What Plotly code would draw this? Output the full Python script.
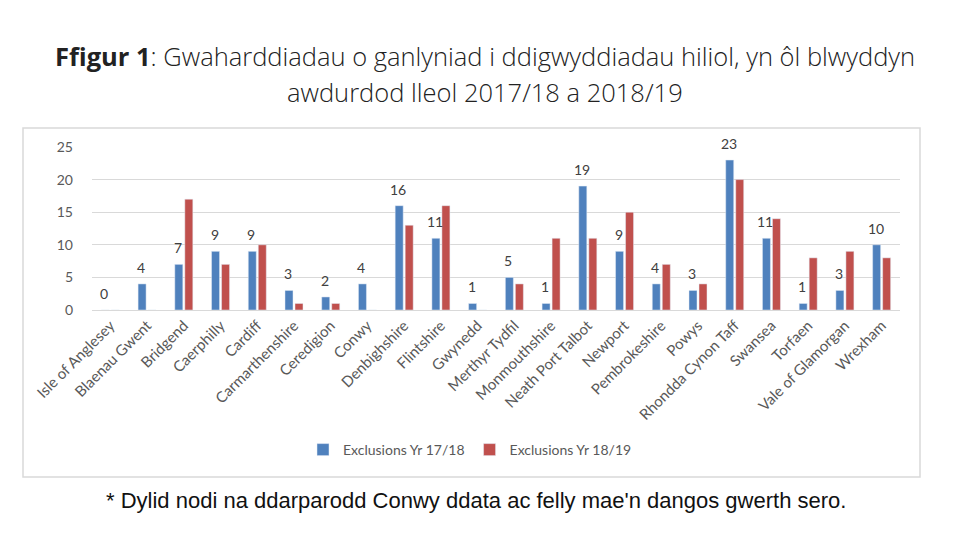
import plotly.graph_objects as go

categories = ["Isle of Anglesey", "Blaenau Gwent", "Bridgend", "Caerphilly", "Cardiff",
              "Carmarthenshire", "Ceredigion", "Conwy", "Denbighshire", "Flintshire",
              "Gwynedd", "Merthyr Tydfil", "Monmouthshire", "Neath Port Talbot", "Newport",
              "Pembrokeshire", "Powys", "Rhondda Cynon Taff", "Swansea", "Torfaen",
              "Vale of Glamorgan", "Wrexham"]
excl_1718 = [0, 4, 7, 9, 9, 3, 2, 4, 16, 11, 1, 5, 1, 19, 9, 4, 3, 23, 11, 1, 3, 10]
excl_1819 = [0, 0, 17, 7, 10, 1, 1, 0, 13, 16, 0, 4, 11, 11, 15, 7, 4, 20, 14, 8, 9, 8]
series_names = ["Exclusions Yr 17/18", "Exclusions Yr 18/19"]
y_ticks = [0, 5, 10, 15, 20, 25]

title_line1 = "<b>Ffigur 1</b>: Gwaharddiadau o ganlyniad i ddigwyddiadau hiliol, yn ôl blwyddyn"
title_line2 = "awdurdod lleol 2017/18 a 2018/19"
footnote = "* Dylid nodi na ddarparodd Conwy ddata ac felly mae'n dangos gwerth sero."

# page body has an 8px margin, so the figure is drawn 8px in from the window corner
W, H = 968, 541
L, T = 84, 139
PW, PH = 808, 163
R, B = W - L - PW, H - T - PH


def px(x):  # window pixel -> paper
    return (x - 8 - L) / PW


def py(y):
    return (T + PH - (y - 8)) / PH


BLUE = "#4F81BD"
RED = "#C0504D"
GRAY = "#595959"
chart_font = "Lato, Open Sans, sans-serif"

fig = go.Figure()
fig.add_trace(go.Bar(x=categories, y=excl_1718, name=series_names[0], marker_color=BLUE))
fig.add_trace(go.Bar(x=categories, y=excl_1819, name=series_names[1], marker_color=RED))

annotations = []
for c, v in zip(categories, excl_1718):
    annotations.append(dict(x=c, y=v, xref="x", yref="y", text=str(v), showarrow=False,
                            xshift=-6, yshift=6, yanchor="bottom",
                            font=dict(family=chart_font, size=14, color="#404040")))

annotations += [
    dict(x=px(485), y=py(56), xref="paper", yref="paper", text=title_line1, showarrow=False,
         xanchor="center", yanchor="middle",
         font=dict(family="Open Sans", size=25.5, color="#222222", weight=300)),
    dict(x=px(485), y=py(92), xref="paper", yref="paper", text=title_line2, showarrow=False,
         xanchor="center", yanchor="middle",
         font=dict(family="Open Sans", size=25.5, color="#222222", weight=300)),
    dict(x=px(476), y=py(500), xref="paper", yref="paper", text=footnote, showarrow=False,
         xanchor="center", yanchor="middle",
         font=dict(family="Liberation Sans, Arial", size=22, color="#111111")),
]

fig.update_layout(
    width=W, height=H,
    margin=dict(l=L, r=R, t=T, b=B, autoexpand=False),
    paper_bgcolor="white", plot_bgcolor="white",
    barmode="group", bargap=0.455, bargroupgap=0.2,
    showlegend=True,
    legend=dict(orientation="h", x=px(470), y=py(450), xanchor="center", yanchor="middle",
                font=dict(family=chart_font, size=14, color=GRAY), itemwidth=30,
                bgcolor="rgba(0,0,0,0)"),
    annotations=annotations,
    shapes=[dict(type="rect", xref="paper", yref="paper",
                 x0=px(23), x1=px(920), y0=py(477), y1=py(128),
                 line=dict(color="#d9d9d9", width=1.5), layer="below")],
)
fig.update_xaxes(type="category", tickangle=-45, showgrid=False, showline=True,
                 linecolor="#d9d9d9", linewidth=1, ticks="",
                 tickfont=dict(family=chart_font, size=15, color=GRAY))
fig.update_yaxes(range=[0, 25], tickvals=y_ticks, showgrid=True, gridcolor="#d9d9d9",
                 gridwidth=1, zeroline=False, showline=False, ticks="",
                 ticklabelstandoff=18,
                 tickfont=dict(family=chart_font, size=14, color=GRAY))

fig.write_html("out.html")
